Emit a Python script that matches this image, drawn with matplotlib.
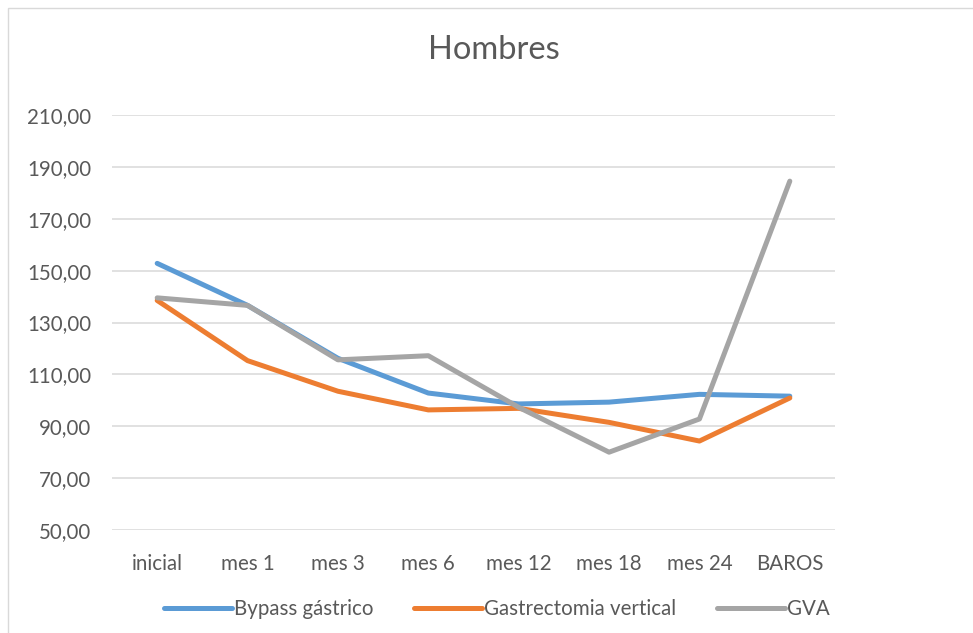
import matplotlib
matplotlib.use("Agg")
import matplotlib.pyplot as plt
from matplotlib.patches import Rectangle
from matplotlib.ticker import FuncFormatter

plt.rcParams['font.family'] = ['Lato', 'DejaVu Sans']

categories = ["inicial", "mes 1", "mes 3", "mes 6", "mes 12", "mes 18", "mes 24", "BAROS"]
bypass = [152.8, 136.6, 116.2, 102.8, 98.6, 99.3, 102.3, 101.6]
gastrectomia = [138.5, 115.3, 103.5, 96.3, 96.9, 91.5, 84.3, 100.9]
gva = [139.5, 136.6, 115.6, 117.2, 97.3, 80.0, 92.8, 184.5]

series = [
    ("Bypass gástrico", bypass, "#5B9BD5"),
    ("Gastrectomia vertical", gastrectomia, "#ED7D31"),
    ("GVA", gva, "#A5A5A5"),
]

fig = plt.figure(figsize=(9.73, 6.33), dpi=100)
fig.patch.set_facecolor("white")

# chart-area border
fig.add_artist(Rectangle((8 / 973, -0.05), 1.1, 1 - 8 / 633 + 0.05,
                         transform=fig.transFigure, fill=False,
                         edgecolor="#D9D9D9", linewidth=1.0))

ax = fig.add_axes([112 / 973, 1 - 530 / 633, 723 / 973, 415 / 633])
x = [i + 0.5 for i in range(len(categories))]

for name, vals, color in series:
    ax.plot(x, vals, color=color, linewidth=3.6, label=name,
            solid_capstyle="round", solid_joinstyle="round")

ax.set_xlim(0, len(categories))
ax.set_ylim(50, 210)
ax.set_yticks(range(50, 211, 20))
ax.yaxis.set_major_formatter(FuncFormatter(lambda v, p: f"{v:.2f}".replace(".", ",")))
ax.set_xticks(x)
ax.set_xticklabels(categories)
ax.grid(axis="y", color="#D9D9D9", linewidth=1.1)
ax.set_axisbelow(True)
for s in ax.spines.values():
    s.set_visible(False)
ax.tick_params(axis="both", length=0, labelsize=14.8, colors="#595959")
ax.tick_params(axis="y", pad=15)
ax.tick_params(axis="x", pad=17)

fig.text(494 / 973, 1 - 50 / 633, "Hombres", ha="center", va="center",
         fontsize=23.5, color="#595959")

leg = fig.legend(loc="center", bbox_to_anchor=(497 / 973, 1 - 609 / 633), ncol=3,
                 frameon=False, fontsize=14.8, handlelength=3.3, handletextpad=0.1,
                 columnspacing=2.0)
for t in leg.get_texts():
    t.set_color("#595959")

fig.savefig("out.png", dpi=100)
